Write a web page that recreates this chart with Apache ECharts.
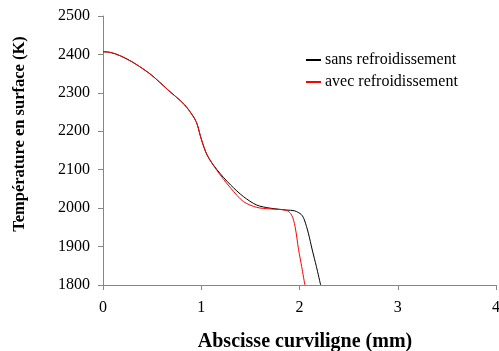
<!DOCTYPE html>
<html>
<head>
<meta charset="utf-8">
<script src="https://cdn.jsdelivr.net/npm/echarts@6/dist/echarts.min.js"></script>
<style>
  html, body { margin: 0; padding: 0; background: #fff; }
  #chart { width: 499px; height: 351px; }
</style>
</head>
<body>
<div id="chart"></div>
<script>
// abscissa (mm) and surface temperature (K)
const sansX = [0, 0.08, 0.18, 0.32, 0.49, 0.66, 0.83, 0.93, 0.96, 1.0, 1.06, 1.16, 1.30, 1.43, 1.565, 1.70, 1.87, 1.95, 2.02, 2.05, 2.09, 2.13, 2.172, 2.215];
const sansT = [2407, 2405, 2396, 2377, 2347, 2308, 2269, 2234, 2217, 2180, 2138, 2100, 2060, 2030, 2008, 2000, 1995, 1993, 1983, 1969, 1935, 1891, 1848, 1800];

const avecX = [0, 0.08, 0.18, 0.32, 0.49, 0.66, 0.83, 0.93, 0.96, 1.0, 1.06, 1.16, 1.30, 1.43, 1.565, 1.70, 1.87, 1.92, 1.955, 1.99, 2.022, 2.055];
const avecT = [2407, 2405, 2396, 2377, 2347, 2308, 2269, 2234, 2217, 2180, 2138, 2098, 2052, 2017, 2002, 1998, 1994, 1982, 1952, 1893, 1848, 1800];

const xTicks = [0, 1, 2, 3, 4];
const seriesNames = ["sans refroidissement", "avec refroidissement"];

const pair = (xs, ys) => xs.map((x, i) => [x, ys[i]]);
const serif = "Liberation Serif, Times New Roman, serif";
const axisGrey = "#868686";

const chart = echarts.init(document.getElementById("chart"));
chart.setOption({
  animation: false,
  grid: { left: 103, right: 3, top: 16, bottom: 66, outerBoundsMode: "none", containLabel: false },
  legend: {
    orient: "vertical",
    left: 301,
    top: 47,
    itemWidth: 15,
    itemHeight: 2,
    itemGap: 6,
    icon: "rect",
    textStyle: { fontFamily: serif, fontSize: 16, color: "#000", padding: [0, 0, 0, -1] },
    data: seriesNames,
  },
  xAxis: {
    type: "value",
    min: xTicks[0],
    max: xTicks[xTicks.length - 1],
    interval: 1,
    splitLine: { show: false },
    axisLine: { lineStyle: { color: axisGrey, width: 1 } },
    axisTick: { length: 5, lineStyle: { color: axisGrey } },
    axisLabel: { margin: 15, fontFamily: serif, fontSize: 16, color: "#000" },
  },
  yAxis: {
    type: "value",
    min: 1800,
    max: 2500,
    interval: 100,
    splitLine: { show: false },
    axisLine: { show: true, lineStyle: { color: axisGrey, width: 1 } },
    axisTick: { show: true, length: 5, lineStyle: { color: axisGrey } },
    axisLabel: { margin: 13, fontFamily: serif, fontSize: 16, color: "#000", formatter: (v) => String(v) },
  },
  graphic: [
    {
      type: "text",
      x: 305,
      y: 342,
      style: {
        text: "Abscisse curviligne (mm)",
        font: "bold 20px " + serif,
        fill: "#000",
        align: "center",
        verticalAlign: "middle",
      },
    },
    {
      type: "text",
      x: 20,
      y: 134,
      rotation: Math.PI / 2,
      style: {
        text: "Température en surface (K)",
        font: "bold 16.5px " + serif,
        fill: "#000",
        align: "center",
        verticalAlign: "middle",
      },
    },
  ],
  series: [
    {
      name: seriesNames[0],
      type: "line",
      data: pair(sansX, sansT),
      smooth: 0.3,
      showSymbol: false,
      lineStyle: { color: "#000", width: 1 },
      itemStyle: { color: "#000" },
    },
    {
      name: seriesNames[1],
      type: "line",
      data: pair(avecX, avecT),
      smooth: 0.3,
      showSymbol: false,
      lineStyle: { color: "#ff0000", width: 1 },
      itemStyle: { color: "#ff0000" },
    },
  ],
});
</script>
</body>
</html>
